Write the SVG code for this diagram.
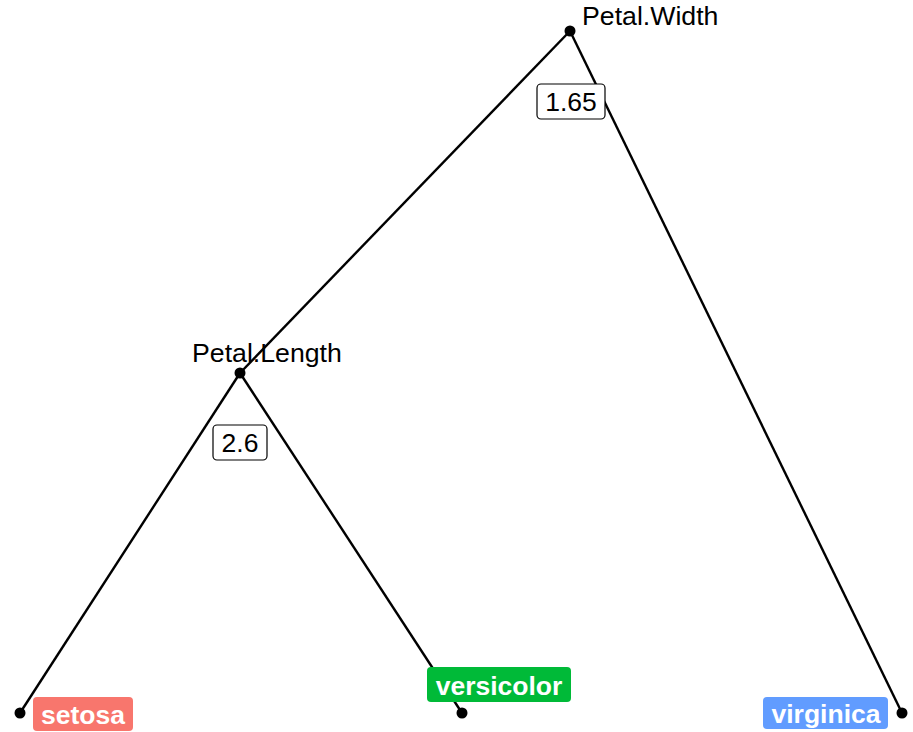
<svg xmlns="http://www.w3.org/2000/svg" width="913" height="732" viewBox="0 0 913 732">
  <style>
    .edge { stroke: #000; stroke-width: 2.4; fill: none; }
    .dot { fill: #000; }
    .split { font-family: "Liberation Sans", Arial, sans-serif; font-size: 26.7px; fill: #000; }
    .cut rect { fill: #fff; stroke: #000; stroke-width: 1.2; }
    .cut text { font-family: "Liberation Sans", Arial, sans-serif; font-size: 26.5px; fill: #000; text-anchor: middle; }
    .leaf text { font-family: "Liberation Sans", Arial, sans-serif; font-size: 26.5px; font-weight: bold; fill: #fff; text-anchor: middle; }
  </style>
  <rect width="913" height="732" fill="#fff"/>

  <!-- tree edges -->
  <g id="connectors">
    <line class="edge" x1="570" y1="31" x2="240" y2="373"/>
    <line class="edge" x1="570" y1="31" x2="902" y2="713"/>
    <line class="edge" x1="240" y1="373" x2="20" y2="713"/>
    <line class="edge" x1="240" y1="373" x2="462" y2="713"/>
  </g>

  <!-- split labels on edges -->
  <g id="cut-1.65" class="cut">
    <rect x="537" y="84" width="68" height="35" rx="4"/>
    <text x="571" y="111">1.65</text>
  </g>
  <g id="cut-2.6" class="cut">
    <rect x="213" y="425" width="54" height="35" rx="4"/>
    <text x="240" y="452">2.6</text>
  </g>

  <!-- inner nodes -->
  <g id="node-petal-width">
    <circle class="dot" cx="570" cy="31" r="5.5"/>
    <text class="split" x="582" y="25">Petal.Width</text>
  </g>
  <g id="node-petal-length">
    <circle class="dot" cx="240" cy="373" r="5.5"/>
    <text class="split" x="192" y="362">Petal.Length</text>
  </g>

  <!-- leaves -->
  <g id="leaf-setosa" class="leaf">
    <circle class="dot" cx="20" cy="713" r="5.5"/>
    <rect x="33" y="697" width="100" height="34" rx="4" fill="#F8766D"/>
    <text x="83" y="724">setosa</text>
  </g>
  <g id="leaf-versicolor" class="leaf">
    <circle class="dot" cx="462" cy="713" r="5.5"/>
    <rect x="427" y="667" width="144" height="35" rx="4" fill="#00BA38"/>
    <text x="499" y="695">versicolor</text>
  </g>
  <g id="leaf-virginica" class="leaf">
    <circle class="dot" cx="902" cy="713" r="5.5"/>
    <rect x="763" y="697" width="125" height="32" rx="4" fill="#619CFF"/>
    <text x="826" y="723">virginica</text>
  </g>
</svg>
